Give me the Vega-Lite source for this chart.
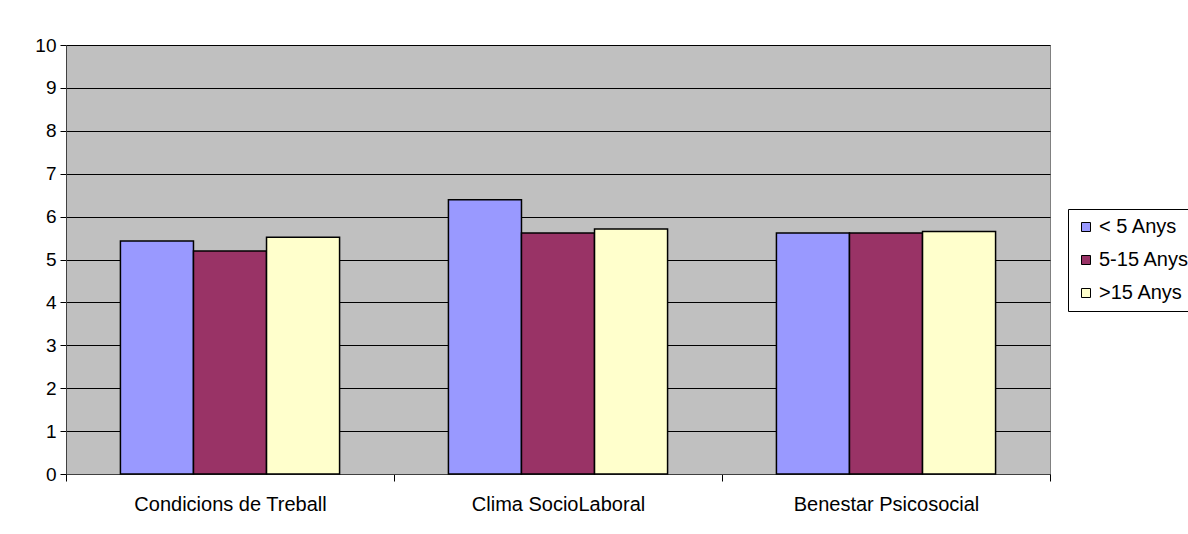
{
  "$schema": "https://vega.github.io/schema/vega-lite/v6.json",
  "width": 984,
  "height": 429,
  "autosize": {"type": "none"},
  "padding": {"left": 66, "top": 45, "right": 138, "bottom": 60},
  "background": "white",
  "config": {
    "font": "Liberation Sans",
    "view": {"fill": "#C0C0C0", "stroke": "#808080", "strokeWidth": 1}
  },
  "data": {
    "values": [
      {"cat": "Condicions de Treball", "grp": "< 5 Anys", "v": 5.43},
      {"cat": "Condicions de Treball", "grp": "5-15 Anys", "v": 5.2},
      {"cat": "Condicions de Treball", "grp": ">15 Anys", "v": 5.52},
      {"cat": "Clima SocioLaboral", "grp": "< 5 Anys", "v": 6.39},
      {"cat": "Clima SocioLaboral", "grp": "5-15 Anys", "v": 5.62},
      {"cat": "Clima SocioLaboral", "grp": ">15 Anys", "v": 5.71},
      {"cat": "Benestar Psicosocial", "grp": "< 5 Anys", "v": 5.62},
      {"cat": "Benestar Psicosocial", "grp": "5-15 Anys", "v": 5.62},
      {"cat": "Benestar Psicosocial", "grp": ">15 Anys", "v": 5.65}
    ]
  },
  "mark": {"type": "bar", "stroke": "black", "strokeWidth": 1.5},
  "encoding": {
    "x": {
      "field": "cat", "type": "nominal", "sort": null,
      "scale": {"paddingInner": 0, "paddingOuter": 0},
      "axis": {
        "title": null, "labelAngle": 0, "labelFontSize": 20, "labelColor": "black", "labelLimit": 0,
        "labelPadding": 13, "tickBand": "extent", "tickColor": "black", "tickSize": 7,
        "domainColor": "#404040", "grid": false, "labelOverlap": false
      }
    },
    "xOffset": {
      "field": "grp", "type": "nominal", "sort": ["< 5 Anys", "5-15 Anys", ">15 Anys"],
      "scale": {"paddingInner": 0, "paddingOuter": 0.745}
    },
    "y": {
      "field": "v", "type": "quantitative",
      "scale": {"domain": [0, 10]},
      "axis": {
        "title": null, "values": [0,1,2,3,4,5,6,7,8,9,10], "labelOverlap": false,
        "labelFontSize": 19, "labelColor": "black", "labelPadding": 4,
        "tickColor": "black", "tickSize": 6, "domainColor": "#404040",
        "gridColor": "black", "gridOpacity": 1, "gridWidth": 1
      }
    },
    "color": {
      "field": "grp", "type": "nominal", "sort": ["< 5 Anys", "5-15 Anys", ">15 Anys"],
      "scale": {"range": ["#9999FF", "#993366", "#FFFFCC"]},
      "legend": {
        "title": null, "orient": "none", "legendX": 1002, "legendY": 164,
        "symbolType": "square", "symbolSize": 81, "symbolStrokeColor": "black", "symbolStrokeWidth": 1,
        "labelFontSize": 20, "labelColor": "black", "rowPadding": 13,
        "strokeColor": "black", "fillColor": "white", "padding": 8, "labelOffset": 3
      }
    }
  }
}
